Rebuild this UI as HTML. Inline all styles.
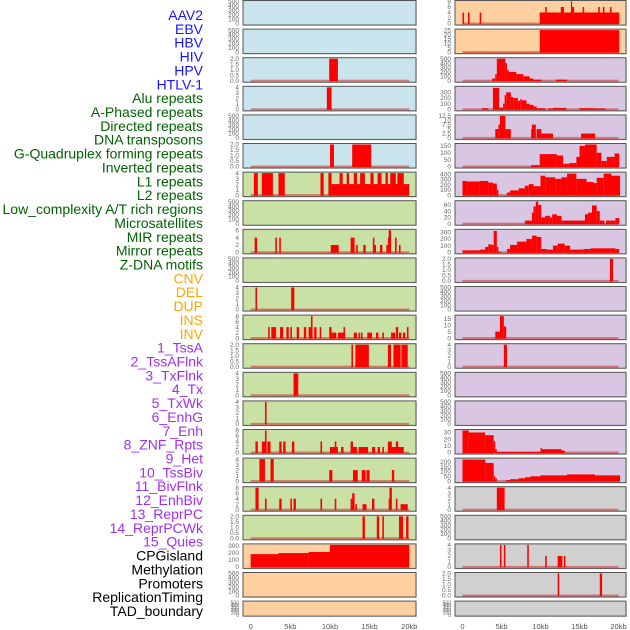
<!DOCTYPE html>
<html><head><meta charset="utf-8"><style>
html,body{margin:0;padding:0;background:#fff;width:630px;height:630px;overflow:hidden}
svg{display:block;font-family:"Liberation Sans",sans-serif}
</style></head><body>
<svg id="chart" width="630" height="630" viewBox="0 0 630 630" xmlns="http://www.w3.org/2000/svg"></svg>
<script>
const labels = ["AAV2","EBV","HBV","HIV","HPV","HTLV-1","Alu repeats","A-Phased repeats","Directed repeats","DNA transposons","G-Quadruplex forming repeats","Inverted repeats","L1 repeats","L2 repeats","Low_complexity A/T rich regions","Microsatellites","MIR repeats","Mirror repeats","Z-DNA motifs","CNV","DEL","DUP","INS","INV","1_TssA","2_TssAFlnk","3_TxFlnk","4_Tx","5_TxWk","6_EnhG","7_Enh","8_ZNF_Rpts","9_Het","10_TssBiv","11_BivFlnk","12_EnhBiv","13_ReprPC","14_ReprPCWk","15_Quies","CPGisland","Methylation","Promoters","ReplicationTiming","TAD_boundary"];
const labelGroups = [6,13,5,15,5];
const groupColors = ["#1515ff","#006400","#ffa500","#a030f0","#000000"];
const xTicks = [0,5,10,15,20];
const xTickLabels = ["0","5kb","10kb","15kb","20kb"];
const leftBg = ["b","b","b","b","b","b","g","g","g","g","g","g","g","g","g","g","g","g","g","p","p","p"];
const rightBg = ["p","p","v","v","v","v","v","v","v","v","v","v","v","v","v","v","v","y","y","y","y","y"];
const leftMax = [500,500,2,4,500,2,4,500,6,500,4,8,2,4,4,8,4,8,2,310,500,500];
const rightMax = [8,25,500,390,12.5,160,420,70,330,2,500,17,4,500,500,33,230,4,500,4,2,500];
const leftTicks = [[0,100,200,300,400,500],[0,100,200,300,400,500],[0,0.5,1,1.5,2],[0,1,2,3,4],[0,100,200,300,400,500],[0,0.5,1,1.5,2],[0,1,2,3,4],[0,100,200,300,400,500],[0,2,4,6],[0,100,200,300,400,500],[0,1,2,3,4],[0,2,4,6,8],[0,0.5,1,1.5,2],[0,1,2,3,4],[0,1,2,3,4],[0,2,4,6,8],[0,1,2,3,4],[0,2,4,6,8],[0,0.5,1,1.5,2],[0,100,200,300],[0,100,200,300,400,500],[0,100,200,300,400,500]];
const rightTicks = [[0,2,4,6,8],[0,5,10,15,20,25],[0,100,200,300,400,500],[0,100,200,300],[0,2.5,5,7.5,10,12.5],[0,50,100,150],[0,100,200,300,400],[0,20,40,60],[0,100,200,300],[0,0.5,1,1.5,2],[0,100,200,300,400,500],[0,5,10,15],[0,1,2,3,4],[0,100,200,300,400,500],[0,100,200,300,400,500],[0,10,20,30],[0,50,100,150,200],[0,1,2,3,4],[0,100,200,300,400,500],[0,1,2,3,4],[0,0.5,1,1.5,2],[0,100,200,300,400,500]];
const leftBars = [
[],[],
[[9.9,11.0,2]],
[[9.6,10.2,4]],
[],
[[10.0,10.5,2],[12.8,15.2,2]],
[[0.4,0.9,4],[1.4,2.8,4],[3.5,4.3,4],[8.8,9.2,4],[9.8,10.2,4],[10.2,20.0,2],[11.2,11.6,4],[12.1,12.4,4],[13.0,13.4,4],[13.8,14.4,4],[15.1,15.5,4],[16.0,16.5,4],[17.0,17.3,4],[17.6,18.3,4],[18.5,19.3,4]],
[],
[[0.5,0.8,4],[3.1,3.3,4],[3.6,3.8,4],[10.1,11.1,2],[12.6,13.1,4],[13.3,13.5,2],[14.2,14.5,2],[15.4,15.6,4],[15.6,15.8,2],[16.3,16.6,2],[17.1,17.3,2],[17.3,17.4,4],[17.4,17.7,6],[18.2,18.4,4],[18.7,18.9,2]],
[],
[[0.6,0.8,4],[5.1,5.5,4]],
[[2.2,2.4,4],[2.6,3.2,4],[3.7,4.1,4],[4.5,4.8,4],[5.0,5.2,4],[5.8,6.1,4],[6.7,7.0,4],[7.3,7.8,4],[7.6,7.8,8],[8.0,8.3,4],[8.7,8.9,4],[9.9,10.2,4],[10.2,10.8,2],[11.0,11.9,2],[11.7,11.9,4],[13.0,13.4,2],[13.6,13.8,2],[13.9,14.1,2],[14.7,15.3,2],[15.8,16.1,2],[16.6,16.8,2],[17.7,18.2,2],[18.3,18.6,4],[18.7,19.0,2],[19.2,19.5,2],[19.7,19.9,4]],
[[12.7,12.9,2],[13.2,14.9,2],[17.3,17.7,2],[18.0,18.9,2],[19.0,19.8,2]],
[[5.4,6.0,4]],
[[1.8,2.0,4]],
[[0.6,0.9,4],[1.4,2.0,4],[1.8,2.0,8],[2.1,2.5,4],[3.6,3.9,4],[4.1,4.4,4],[5.2,5.5,4],[8.8,9.0,4],[10.0,11.0,2],[10.6,10.8,4],[11.4,11.7,2],[12.6,13.4,2],[12.6,12.9,4],[13.6,14.8,2],[15.3,15.7,2],[16.0,16.3,2],[16.6,16.8,2],[17.3,19.3,2],[17.3,17.8,4],[18.3,18.6,4]],
[[1.1,1.8,4],[2.5,2.9,4],[9.9,10.3,2],[12.9,13.5,2],[14.0,14.5,2],[14.6,15.0,2],[17.8,18.1,2]],
[[0.6,1.0,8],[1.8,2.0,4],[3.6,3.9,4],[5.0,5.2,4],[5.4,5.7,4],[8.8,9.0,4],[10.6,10.8,4],[12.6,12.9,4],[12.8,13.1,6],[13.2,13.4,2],[14.1,14.6,2],[15.3,15.6,4],[17.4,17.6,4],[17.5,17.8,8],[18.3,18.5,4],[18.9,19.8,2]],
[[14.1,14.4,2],[15.9,16.2,2],[16.6,16.8,2],[18.7,19.2,2],[19.6,19.9,2]],
[[0,3.5,180],[3.5,7.3,195],[7.3,10.0,210],[10.0,20.0,310]],
[],[]
];
const rightBars = [
[[0.0,0.2,4],[0.7,0.9,4],[2.2,2.4,4],[9.9,20.1,4],[10.6,10.8,6],[12.6,13.0,6],[13.9,14.0,8],[14.0,14.3,6],[15.4,15.6,6],[17.4,17.6,6],[18.0,18.2,6],[18.9,19.1,6]],
[[9.9,20.1,25]],
[[3.8,4.2,50],[4.2,4.4,150],[4.4,5.5,500],[5.5,5.7,400],[5.7,5.9,250],[5.9,6.9,200],[6.9,7.8,150],[7.8,8.6,100],[8.6,9.1,50],[9.1,10.1,25],[12.0,13.4,25]],
[[2.5,3.3,20],[3.9,4.7,380],[4.7,5.2,30],[5.2,5.4,100],[5.4,5.6,250],[5.6,6.2,300],[6.2,6.5,220],[6.5,7.1,200],[7.1,7.4,150],[7.4,7.6,180],[7.6,8.2,160],[8.2,8.6,100],[8.6,9.1,80],[9.1,9.5,50],[9.5,10.6,20],[11.0,11.6,15],[11.6,13.3,25],[15.0,16.8,20],[16.8,18.3,15]],
[[4.2,4.6,5],[4.6,4.8,7.5],[4.8,5.5,12.5],[5.5,6.2,5],[8.8,8.9,5],[8.9,9.4,7.5],[9.5,10.1,5],[10.1,11.6,2.5],[15.2,17.0,2.5]],
[[8.8,9.9,10],[9.9,12.1,90],[12.1,12.9,80],[12.9,13.7,20],[13.7,14.6,25],[14.6,15.0,70],[15.0,15.7,150],[15.7,17.2,160],[17.2,17.8,100],[17.8,18.5,40],[18.5,19.5,70],[19.5,20.1,95]],
[[0.0,0.5,270],[0.5,2.2,260],[2.2,3.3,270],[3.3,3.9,240],[3.9,4.4,220],[4.4,4.6,100],[5.7,6.1,50],[6.1,7.2,90],[7.2,8.0,130],[8.0,8.5,180],[8.5,9.1,210],[9.1,10.0,170],[10.0,10.6,370],[10.6,11.9,340],[11.9,12.7,310],[12.7,13.4,340],[13.4,14.6,410],[14.6,15.9,310],[15.9,16.8,250],[16.8,17.2,230],[17.2,18.1,330],[18.1,19.1,410],[19.1,20.2,370]],
[[8.0,8.9,10],[8.9,9.1,35],[9.1,9.4,55],[9.4,9.7,70],[9.7,10.1,60],[10.1,10.6,20],[10.6,11.2,25],[11.2,11.5,20],[11.5,12.1,30],[12.1,12.7,25],[12.7,15.7,10],[15.7,16.1,30],[16.1,16.6,35],[16.6,17.2,58],[17.2,17.6,40],[17.6,18.2,10],[18.4,19.6,10],[19.6,20.1,18]],
[[0.0,2.2,30],[2.2,2.9,40],[2.9,3.3,80],[3.3,3.7,120],[3.7,4.0,110],[4.0,4.4,320],[4.4,4.6,80],[4.6,4.9,10],[5.7,6.1,50],[6.1,7.0,110],[7.0,8.2,160],[8.2,8.9,200],[8.9,9.5,250],[9.5,10.1,230],[10.1,10.8,50],[10.8,11.6,40],[11.6,12.2,100],[12.2,13.1,130],[13.1,13.8,100],[13.8,15.5,40],[15.5,16.4,50],[16.4,19.6,60],[19.6,20.1,50]],
[[18.9,19.3,2]],
[],
[[4.2,4.8,5],[4.8,5.3,17],[5.3,5.6,9]],
[[5.3,5.7,4]],
[],[],
[[0.0,0.8,33],[0.8,2.9,30],[2.9,4.0,26],[4.0,4.2,17],[4.2,4.4,5],[4.4,10.0,1],[10.0,10.1,7],[10.1,12.7,5],[12.7,13.1,3]],
[[0.0,2.9,225],[2.9,4.0,190],[4.0,4.2,50],[4.2,4.4,30],[5.6,6.1,10],[6.1,7.2,20],[7.2,8.0,30],[8.0,8.7,40],[8.7,10.0,50],[10.0,13.4,60],[13.4,17.0,70],[17.0,20.2,60]],
[[4.4,5.4,4]],
[],
[[4.8,5.0,4],[5.3,5.5,4],[8.3,8.5,4],[10.6,10.8,2],[12.2,12.8,2],[13.0,13.2,2]],
[[12.2,12.4,2],[17.6,17.9,2]],
[]
];

const NS="http://www.w3.org/2000/svg";
const svg=document.getElementById('chart');
function el(tag,attrs,parent){const e=document.createElementNS(NS,tag);for(const k in attrs)e.setAttribute(k,attrs[k]);(parent||svg).appendChild(e);return e;}
const bgColors={b:"#c9e4ec",g:"#c9e1a5",p:"#ffd09f",v:"#d8c6e2",y:"#d0d0d0"};
const cols=[{x0:243,x1:416,z:250.7,s:7.93,max:leftMax,ticks:leftTicks,bars:leftBars,bg:leftBg,name:'left'},
            {x0:455,x1:626,z:462.5,s:7.8,max:rightMax,ticks:rightTicks,bars:rightBars,bg:rightBg,name:'right'}];
function rowTop(i){return 0.5+28.6*i;}
function rowH(i){return i===21?15:24.5;}

let li=0;
labelGroups.forEach((n,g)=>{for(let k=0;k<n;k++){
  const t=el('text',{x:203,y:15+13.86*li+5,'text-anchor':'end','font-size':'14',fill:groupColors[g]});
  
  
  t.textContent=labels[li];li++;}});

cols.forEach(c=>{
  for(let i=0;i<22;i++){
    const top=rowTop(i),h=rowH(i),bot=top+h;
    const g=el('g',{});
    
    
    el('rect',{x:c.x0+1,y:top+1,width:c.x1-c.x0,height:h,fill:'#e4e4e4'},g);
    el('rect',{x:c.x0,y:top,width:c.x1-c.x0,height:h,fill:bgColors[c.bg[i]],stroke:'#555','stroke-width':1},g);
    const ymax=c.max[i];
    const y0=bot-1.5, yTop=top+1;
    const ys=v=>y0-(v/ymax)*(y0-yTop);
    const xs=k=>c.z+k*c.s;
    const bars=c.bars[i];
    if(bars.length){
      el('rect',{x:xs(0),y:y0-1,width:xs(20)-xs(0),height:2,fill:'rgba(210,40,40,0.55)'},g);
    }
    bars.forEach((b,j)=>{
      const yv=Math.max(ys(b[2]),top+0.5);
      const r=el('rect',{x:xs(b[0]),y:yv,width:Math.max(xs(b[1])-xs(b[0]),1.2),height:y0-yv+0.5,fill:'#ff0000'},g);
      
      
    });
    const tks=c.ticks[i];
    const isDec=tks.some(t=>t%1!==0);
    tks.forEach(t=>{
      const tx=el('text',{x:c.x0-4,y:ys(t)+2.2,'text-anchor':'end','font-size':h<20?'5':'6.5',fill:'#666'},g);
      
      
      tx.textContent= isDec ? (tks[tks.length-1]===12.5? String(t): t.toFixed(1)) : String(t);
    });
  }
  xTicks.forEach((t,k)=>{
    const tx=el('text',{x:c.z+t*c.s,y:629,'text-anchor':'middle','font-size':'7.5',fill:'#555'});
    
    
    tx.textContent=xTickLabels[k];
  });
});
</script>
</body></html>
